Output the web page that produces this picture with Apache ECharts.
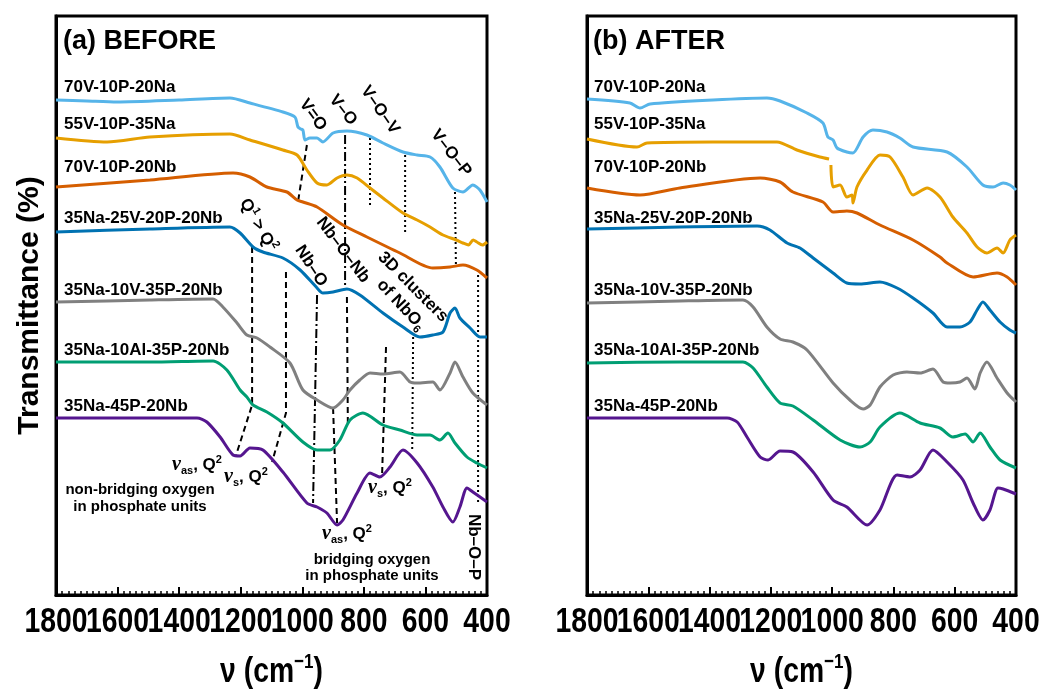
<!DOCTYPE html>
<html><head><meta charset="utf-8">
<script src="https://cdn.jsdelivr.net/npm/echarts@6/dist/echarts.min.js"></script>
<style>html,body{margin:0;padding:0;background:#fff}#c{width:1041px;height:693px}</style>
</head><body><div id="c"></div>
<script>
// ---- categories / names ----
const sampleNames = ['70V-10P-20Na','55V-10P-35Na','70V-10P-20Nb','35Na-25V-20P-20Nb','35Na-10V-35P-20Nb','35Na-10Al-35P-20Nb','35Na-45P-20Nb'];
const sampleColors = ['#56B4E9','#E69F00','#D55E00','#0072B2','#808080','#009E73','#55168F'];
const panelTitles = ['(a) BEFORE','(b) AFTER'];
const xTicks = [1800,1600,1400,1200,1000,800,600,400];

// ---- BEFORE spectra [wavenumber cm-1, transmittance (offset, a.u.)] ----
const before_70V_10P_20Na = [[1800,495],[1700,494],[1602,493],[1400,495],[1235,497],[1170,492],[1063,483],[1024,478],[1014,468],[1005,466],[998,465],[991,455],[975,457],[952,457],[933,453],[900,462],[855,464],[790,460],[738,452],[673,443],[627,440],[585,438],[553,428],[511,407],[478,403],[446,410],[423,405],[400,393]];
const before_55V_10P_35Na = [[1800,457],[1634,453],[1495,458],[1235,461],[1170,455],[1063,445],[1017,440],[985,425],[952,412],[920,410],[887,417],[855,420],[822,417],[780,407],[738,397],[673,382],[627,375],[585,368],[543,360],[500,355],[478,352],[460,350],[445,355],[433,353],[415,350],[400,353]];
const before_70V_10P_20Nb = [[1800,408],[1495,415],[1225,422],[1170,418],[1115,408],[1050,403],[1017,395],[998,393],[952,388],[868,370],[790,358],[683,342],[576,327],[520,328],[478,330],[433,325],[400,317]];
const before_35Na_25V_20P_20Nb = [[1800,363],[1495,366],[1235,368],[1202,362],[1160,348],[1128,343],[1063,337],[1007,325],[952,307],[933,302],[900,303],[855,306],[813,300],[738,282],[673,268],[618,258],[576,260],[543,263],[520,282],[504,287],[488,277],[455,267],[423,258],[400,258]];
const before_35Na_10V_35P_20Nb = [[1800,293],[1495,295],[1290,296],[1258,288],[1212,272],[1180,260],[1147,257],[1105,248],[1040,232],[998,205],[952,195],[900,187],[868,195],[845,205],[813,215],[780,222],[738,221],[683,223],[650,213],[627,212],[576,213],[553,205],[520,222],[504,233],[478,218],[446,202],[400,190]];
const before_35Na_10Al_35P_20Nb = [[1800,233],[1495,233],[1290,234],[1245,225],[1202,205],[1180,198],[1160,190],[1115,183],[1063,172],[998,153],[952,145],[910,145],[878,155],[845,175],[803,182],[738,170],[683,165],[627,160],[585,160],[553,155],[527,162],[504,152],[465,138],[433,132],[400,127]];
const before_35Na_45P_20Nb = [[1800,177],[1342,177],[1310,173],[1267,158],[1225,140],[1202,139],[1170,147],[1128,145],[1063,123],[985,92],[952,88],[920,82],[887,70],[868,75],[822,102],[780,122],[748,118],[715,128],[673,145],[627,132],[576,108],[543,88],[511,73],[488,88],[465,107],[446,103],[400,93]];

// ---- AFTER spectra ----
const after_70V_10P_20Na = [[1800,496],[1660,492],[1627,487],[1594,491],[1389,495],[1213,497],[1170,494],[1082,482],[1030,472],[1014,458],[997,455],[984,447],[952,443],[932,442],[899,458],[867,465],[821,463],[779,457],[736,448],[625,443],[560,428],[508,410],[475,408],[442,412],[420,410],[400,405]];
const after_55V_10P_35Na = [[1800,456],[1637,448],[1604,452],[1389,453],[1180,453],[1115,445],[1040,438],[1010,436],[1007,'-'],[1004,430],[997,408],[974,410],[952,398],[935,400],[932,392],[919,408],[886,425],[844,440],[811,438],[769,418],[736,400],[690,407],[648,398],[606,378],[560,362],[527,348],[495,342],[462,347],[442,342],[420,355],[400,360]];
const after_70V_10P_20Nb = [[1800,407],[1627,400],[1497,407],[1235,417],[1170,413],[1128,403],[1030,393],[997,383],[952,384],[919,382],[844,370],[736,355],[648,338],[625,332],[540,318],[462,322],[429,318],[400,310]];
const after_35Na_25V_20P_20Nb = [[1800,366],[1497,368],[1245,369],[1203,365],[1147,352],[1105,347],[1062,337],[997,322],[952,312],[909,311],[844,313],[788,307],[736,297],[671,282],[625,268],[583,268],[550,273],[527,285],[508,293],[485,285],[452,273],[420,265],[400,262]];
const after_35Na_10V_35P_20Nb = [[1800,292],[1497,294],[1291,295],[1258,288],[1213,268],[1170,256],[1128,253],[1082,245],[997,212],[942,195],[899,186],[876,190],[844,208],[801,220],[756,223],[713,222],[671,226],[638,213],[615,212],[583,213],[560,217],[534,206],[517,222],[495,233],[462,217],[429,202],[400,193]];
const after_35Na_10Al_35P_20Nb = [[1800,232],[1497,233],[1291,233],[1258,227],[1213,208],[1170,192],[1128,189],[1062,175],[974,155],[909,148],[876,153],[844,168],[779,182],[713,172],[648,167],[606,158],[566,161],[540,153],[517,162],[485,148],[452,135],[400,127]];
const after_35Na_45P_20Nb = [[1800,177],[1343,177],[1310,173],[1278,158],[1235,138],[1209,135],[1170,144],[1128,143],[1062,123],[997,95],[952,88],[886,70],[844,85],[788,120],[746,118],[713,125],[671,145],[625,133],[573,115],[540,92],[508,75],[485,85],[459,107],[442,106],[400,101]];

// ---- band assignment guide lines (panel a) ----
const guide_VdO = [[985,450],[1014,393]];
const guide_VO = [[861,460],[861,305]];
const guide_VOV1 = [[780,457],[780,388]];
const guide_VOV2 = [[666,440],[666,362]];
const guide_VOP = [[504,403],[501,330]];
const guide_Q1 = [[1163,348],[1163,190],[1215,140]];
const guide_Q2s = [[1053,323],[1053,182],[1098,133]];
const guide_NbO = [[952,300],[965,92]];
const guide_NbONb = [[855,298],[852,170]];
const guide_Q2bridge = [[900,187],[887,72]];
const guide_NbO6a = [[728,248],[741,118]];
const guide_NbO6b = [[640,258],[643,143]];
const guide_NbOP = [[429,320],[429,92]];

const beforeData = [before_70V_10P_20Na,before_55V_10P_35Na,before_70V_10P_20Nb,before_35Na_25V_20P_20Nb,before_35Na_10V_35P_20Nb,before_35Na_10Al_35P_20Nb,before_35Na_45P_20Nb];
const afterData = [after_70V_10P_20Na,after_55V_10P_35Na,after_70V_10P_20Nb,after_35Na_25V_20P_20Nb,after_35Na_10V_35P_20Nb,after_35Na_10Al_35P_20Nb,after_35Na_45P_20Nb];

const DASHED=[6,4], DASHDOT=[9,3,2,3], DOTTED=[2,3];
const guides = [
  [guide_VdO,DASHED],[guide_VO,DASHDOT],[guide_VOV1,DOTTED],[guide_VOV2,DOTTED],[guide_VOP,DOTTED],
  [guide_Q1,DASHED],[guide_Q2s,DASHED],[guide_NbO,DASHDOT],[guide_NbONb,DASHED],[guide_Q2bridge,DASHED],
  [guide_NbO6a,DASHED],[guide_NbO6b,DOTTED],[guide_NbOP,DOTTED]
];

const F = '"Liberation Sans", Arial, sans-serif';

const chart = echarts.init(document.getElementById('c'), null, {renderer:'canvas'});

function xAx(i){
  return {
    type:'value', gridIndex:i, min:400, max:1800, interval:200, inverse:true,
    axisLine:{show:true, lineStyle:{color:'#000', width:3}},
    axisTick:{show:true, inside:true, length:8, lineStyle:{color:'#000', width:2}},
    minorTick:{show:true, splitNumber:10, length:4, lineStyle:{color:'#000', width:1.5}},
    splitLine:{show:false},
    axisLabel:{show:false}
  };
}
function yAx(i){
  const o = {
    type:'value', gridIndex:i, min:0, max:579,
    axisLine:{show:true, lineStyle:{color:'#000', width:3}},
    axisTick:{show:false}, axisLabel:{show:false}, splitLine:{show:false}
  };
  if(i===0){
    o.name='Transmittance (%)'; o.nameLocation='middle'; o.nameGap=11;
    o.nameTextStyle={fontFamily:F, fontWeight:'bold', fontSize:30, color:'#000'};
  }
  return o;
}

const series = [];
guides.forEach(g=>{
  series.push({type:'line', xAxisIndex:0, yAxisIndex:0, data:g[0], showSymbol:false, silent:true, z:1,
    lineStyle:{color:'#000', width:2, type:g[1]}});
});
[beforeData, afterData].forEach((set, p)=>{
  set.forEach((d,k)=>{
    series.push({type:'line', name:sampleNames[k], xAxisIndex:p, yAxisIndex:p, data:d, showSymbol:false,
      smooth:0.25, z:3, connectNulls:false, lineStyle:{color:sampleColors[k], width:3}, itemStyle:{color:sampleColors[k]}});
  });
});

chart.setOption({
  animation:false,
  backgroundColor:'#fff',
  grid:[
    {left:56, top:16, width:431, height:579, show:true, borderColor:'#000', borderWidth:3, containLabel:false},
    {left:587, top:16, width:429, height:579, show:true, borderColor:'#000', borderWidth:3, containLabel:false}
  ],
  xAxis:[xAx(0), xAx(1)],
  yAxis:[yAx(0), yAx(1)],
  series
});

// text annotations
const labelY = [87,124,167,218,290,350,406];
const graphic = [];
const SX = 0.81;
[0,1].forEach(p=>{
  xTicks.forEach(v=>{
    const px = chart.convertToPixel({gridIndex:p}, [v, 0]);
    graphic.push({type:'text', x:px[0], y:622, scaleX:SX, style:{text:String(v), font:'bold 35px '+F, fill:'#000', align:'center', verticalAlign:'middle'}});
  });
  const mid = chart.convertToPixel({gridIndex:p}, [1100, 0]);
  graphic.push({type:'text', x:mid[0], y:672, scaleX:SX, style:{text:'{a|ν (cm}{b|−1}{a|)}', fill:'#000', align:'center', verticalAlign:'middle',
    rich:{a:{font:'bold 35px '+F, lineHeight:40, fill:'#000'}, b:{font:'bold 21px '+F, lineHeight:24, verticalAlign:'top', fill:'#000'}}}});
});
panelTitles.forEach((t,p)=>{
  graphic.push({type:'text', x:[63,593][p], y:42, style:{text:t, font:'bold 27px '+F, fill:'#000', verticalAlign:'middle'}});
  sampleNames.forEach((n,k)=>{
    graphic.push({type:'text', x:[64,594][p], y:labelY[k], style:{text:n, font:'bold 17px '+F, fill:'#000', verticalAlign:'middle'}});
  });
});
const T = 'bold 17px '+F, TS = 'bold 11px '+F;
const richBase = {
  t:{font:T, lineHeight:22, fill:'#000'},
  s:{font:TS, lineHeight:11, verticalAlign:'bottom', fill:'#000'},
  p:{font:TS, lineHeight:11, verticalAlign:'top', fill:'#000'},
  i:{font:'italic bold 20px "Liberation Serif", serif', lineHeight:22, fill:'#000'}
};
function rot(x,y,text,deg){
  graphic.push({type:'text', x, y, rotation:-deg*Math.PI/180,
    style:{text, rich:richBase, font:T, fill:'#000', align:'center', verticalAlign:'middle'}});
}
rot(313,115,'{t|V=O}',54);
rot(343,110,'{t|V–O}',52);
rot(380,110,'{t|V–O–V}',55);
rot(451,153,'{t|V–O–P}',52);
rot(258,225,'{t|Q}{p|1}{t| > Q}{p|2}',60);
rot(311,266,'{t|Nb–O}',57);
rot(343,250,'{t|Nb–O–Nb}',53);
rot(413,287,'{t|3D clusters}',45);
rot(401,305,'{t|of NbO}{s|6}',47);
rot(474,547,'{t|Nb–O–P}',90);
rot(197,465,'{i|ν}{s|as}{t|, Q}{p|2}',0);
rot(246,477,'{i|ν}{s|s}{t|, Q}{p|2}',0);
rot(390,488,'{i|ν}{s|s}{t|, Q}{p|2}',0);
rot(347,534,'{i|ν}{s|as}{t|, Q}{p|2}',0);
const small = 'bold 15px '+F;
[[140,490,'non-bridging oxygen'],[140,507,'in phosphate units'],[372,560,'bridging oxygen'],[372,576,'in phosphate units']].forEach(a=>{
  graphic.push({type:'text', x:a[0], y:a[1], style:{text:a[2], font:small, fill:'#000', align:'center', verticalAlign:'middle'}});
});
chart.setOption({graphic});
</script></body></html>
